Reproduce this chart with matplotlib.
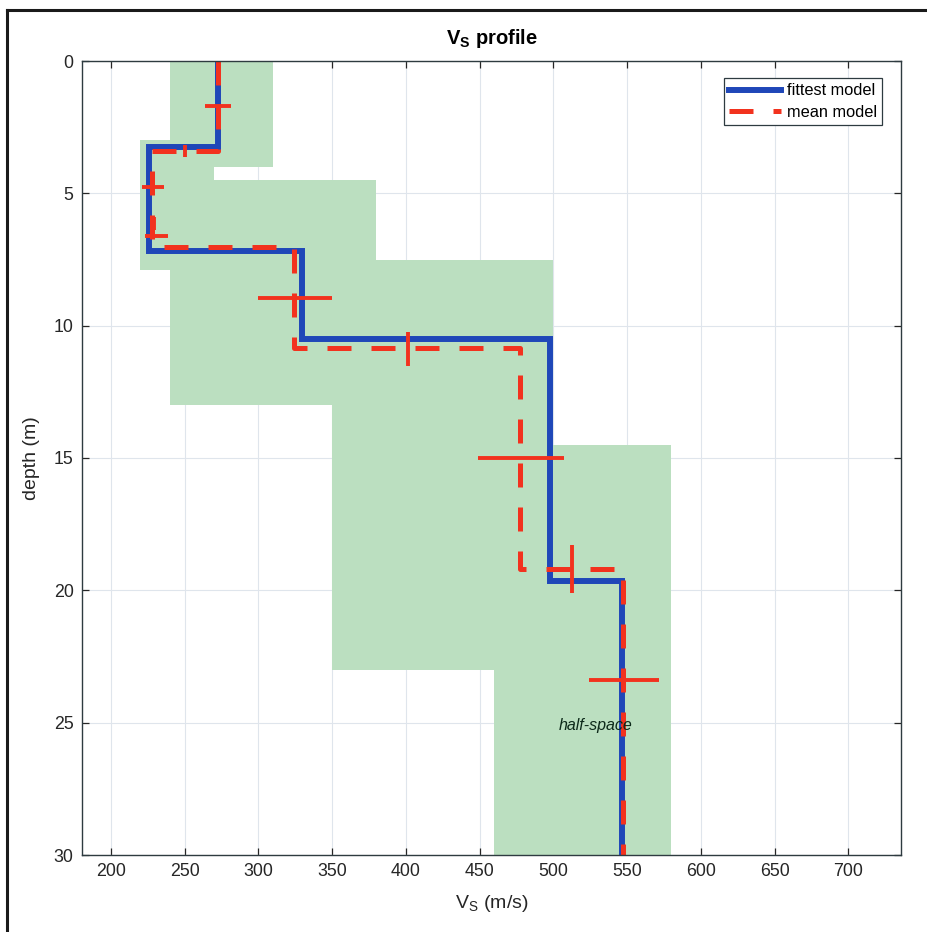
import matplotlib
matplotlib.use("Agg")
import matplotlib.pyplot as plt
from matplotlib.patches import Rectangle
from matplotlib.lines import Line2D
import numpy as np

plt.rcParams['font.family'] = ['Liberation Sans', 'DejaVu Sans']

# ---- data ----
# uncertainty (search-space) rectangles: Vs range and depth range
box_vmin = [240, 220, 240, 350, 460]
box_vmax = [310, 270, 380, 500, 580]
box_ztop = [0.0, 3.0, 4.5, 7.5, 14.5]
box_zbot = [4.0, 7.9, 13.0, 23.0, 30.0]

# fittest model
fit_vs = [272.7, 226.0, 329.7, 497.8, 546.8]
fit_z = [3.25, 7.18, 10.50, 19.64]

# mean model
mean_vs = [272.7, 228.2, 324.5, 477.7, 547.5]
mean_z = [3.40, 7.03, 10.84, 19.19]

# horizontal (Vs) error bars of the mean model
hbar_z = [1.7, 4.77, 6.6, 8.95, 15.0, 23.4]
hbar_vs = [272.5, 228.5, 231.0, 325.0, 478.0, 548.0]
hbar_err = [8.8, 7.3, 8.0, 25.0, 29.0, 23.5]

# vertical (depth) error bars of the mean model
vbar_vs = [250.0, 229.0, 401.5, 513.0]
vbar_z = [3.40, 6.15, 10.88, 19.20]
vbar_err = [0.23, 0.25, 0.64, 0.90]

zmax = 30
xticks = [200, 250, 300, 350, 400, 450, 500, 550, 600, 650, 700]
yticks = [0, 5, 10, 15, 20, 25, 30]


def step_profile(vs, z, zend):
    xs, ys = [], []
    tops = [0.0] + list(z)
    bots = list(z) + [zend]
    for v, t, b in zip(vs, tops, bots):
        xs += [v, v]
        ys += [t, b]
    return xs, ys


fig = plt.figure(figsize=(9.27, 9.32), dpi=100)
ax = fig.add_axes([82 / 927, 1 - 855 / 932, (901 - 82) / 927, (855 - 61) / 932])

green = '#bbdfc0'
for v0, v1, z0, z1 in zip(box_vmin, box_vmax, box_ztop, box_zbot):
    ax.add_patch(Rectangle((v0, z0), v1 - v0, z1 - z0, facecolor=green,
                           edgecolor='none', zorder=1))

blue = '#1f47b8'
red = '#f2321e'

fx, fy = step_profile(fit_vs, fit_z, zmax)
ax.plot(fx, fy, color=blue, lw=4.3, solid_joinstyle='miter', zorder=3,
        label='fittest model')

mx, my = step_profile(mean_vs, mean_z, zmax)
ax.plot(mx, my, color=red, lw=3.6, dashes=(4.8, 4.0), zorder=4,
        label='mean model')

ax.errorbar(hbar_vs, hbar_z, xerr=hbar_err, fmt='none', ecolor=red,
            elinewidth=2.8, capsize=0, zorder=5)
ax.errorbar(vbar_vs, vbar_z, yerr=vbar_err, fmt='none', ecolor=red,
            elinewidth=2.8, capsize=0, zorder=5)

ax.text(529, 25.1, 'half-space', style='italic', fontsize=11.5,
        color='#0d2a1a', ha='center', va='center', zorder=6)

ax.set_xlim(180.5, 735.7)
ax.set_ylim(zmax, 0)
ax.set_xticks(xticks)
ax.set_yticks(yticks)
ax.grid(True, color='#dfe5ec', lw=0.8, zorder=0)
ax.set_axisbelow(True)
ax.tick_params(direction='in', top=True, right=True, length=5, width=0.9,
               labelsize=12.8, colors='#262626', pad=6)
for s in ax.spines.values():
    s.set_color('#2e3b40')
    s.set_linewidth(1.0)
    s.set_zorder(7)

ax.set_xlabel('V$_\\mathregular{S}$ (m/s)', fontsize=14, color='#262626',
              labelpad=9)
ax.set_ylabel('depth (m)', fontsize=14, color='#262626', labelpad=10)
ax.set_title('V$_\\mathregular{S}$ profile', fontsize=14.5, fontweight='bold',
             color='black', pad=12)

leg = ax.legend(loc='upper right', fontsize=11.8, frameon=True, fancybox=False,
                edgecolor='#2e3b40', framealpha=1, handlelength=3.2,
                borderpad=0.3, labelspacing=0.4, handletextpad=0.35,
                borderaxespad=0, bbox_to_anchor=(0.977, 0.978))
leg.get_frame().set_linewidth(0.9)

# outer frame (left and top lines only visible in the reference)
fig.add_artist(Line2D([7 / 927, 7 / 927], [0, 1 - 10 / 932], color='#1a1a1a',
                      lw=2.2, transform=fig.transFigure))
fig.add_artist(Line2D([7 / 927, 1], [1 - 10 / 932, 1 - 10 / 932],
                      color='#1a1a1a', lw=2.2, transform=fig.transFigure))

fig.savefig('out.png', dpi=100)
